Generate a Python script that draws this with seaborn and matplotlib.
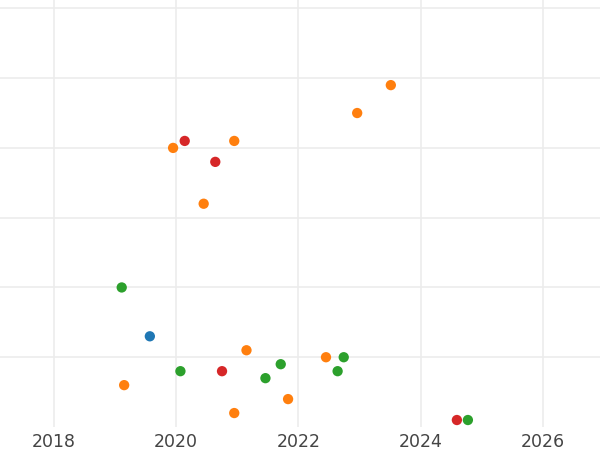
import numpy as np
import pandas as pd
import matplotlib
matplotlib.use("Agg")
import matplotlib.pyplot as plt
import seaborn as sns

# ----------------------------
# Data
# ----------------------------
years = [2019.11, 2019.57, 2019.15, 2020.07, 2019.95, 2020.14, 2020.95,
         2020.64, 2020.45, 2022.96, 2023.51, 2021.15, 2020.75, 2021.46,
         2021.71, 2020.95, 2021.83, 2022.45, 2022.74, 2022.64, 2024.59,
         2024.77]
values = [2.0, 1.3, 0.6, 0.8, 4.0, 4.1, 4.1,
          3.8, 3.2, 4.5, 4.9, 1.1, 0.8, 0.7,
          0.9, 0.2, 0.4, 1.0, 1.0, 0.8, 0.1,
          0.1]
groups = ["C", "A", "B", "C", "B", "D", "B",
          "D", "B", "B", "B", "B", "D", "C",
          "C", "B", "B", "B", "C", "C", "D",
          "C"]

group_order = ["A", "B", "C", "D"]
palette = {"A": "#1f77b4", "B": "#ff7f0e", "C": "#2ca02c", "D": "#d62728"}

df = pd.DataFrame({"year": years, "value": values, "group": groups})

# ----------------------------
# Plot
# ----------------------------
sns.set_theme(style="white")

fig = plt.figure(figsize=(6, 4.5), dpi=100)
ax = fig.add_axes([0, 23 / 450, 1, 427 / 450])

sns.scatterplot(data=df, x="year", y="value", hue="group",
                hue_order=group_order, palette=palette,
                s=55, linewidth=0, legend=False, ax=ax, zorder=3)

ax.set_xlim(2017.12, 2026.93)
ax.set_ylim(0, 6.12)
ax.set_xticks([2018, 2020, 2022, 2024, 2026])
ax.set_yticks([1, 2, 3, 4, 5, 6])
ax.grid(True, color="#ececec", linewidth=1.2)
ax.set_axisbelow(True)
ax.tick_params(axis="x", length=0, labelsize=12.5, labelcolor="#444444", pad=4.5)
ax.tick_params(axis="y", length=0, labelleft=False)
ax.set_xlabel("")
ax.set_ylabel("")
for sp in ax.spines.values():
    sp.set_visible(False)

fig.savefig("out.png", dpi=100)
